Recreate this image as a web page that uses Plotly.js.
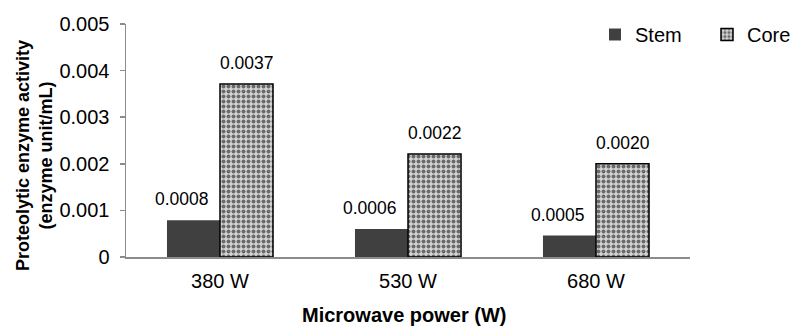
<!DOCTYPE html>
<html>
<head>
<meta charset="utf-8">
<script src="https://cdn.plot.ly/plotly-3.0.1.min.js"></script>
<style>html,body{margin:0;padding:0;background:#fff;}#chart{width:792px;height:326px;}</style>
</head>
<body>
<div id="chart"></div>
<script>
const categories = ["380 W", "530 W", "680 W"];
const stemValues = [0.00079, 0.0006, 0.00046];
const coreValues = [0.00371, 0.00221, 0.002];
const yTickVals = [0, 0.001, 0.002, 0.003, 0.004, 0.005];
const yTickText = ["0", "0.001", "0.002", "0.003", "0.004", "0.005"];

const FONT = "Arial, Liberation Sans, sans-serif";
const barW = 0.282;
const traces = [
  {
    type: "bar", name: "Stem", x: [0, 1, 2], y: stemValues,
    width: barW, offset: -barW,
    marker: {color: "#404040", line: {width: 0}},
    hoverinfo: "skip"
  },
  {
    type: "bar", name: "Core", x: [0, 1, 2], y: coreValues,
    width: barW, offset: 0,
    marker: {color: "#bdbdbd", line: {color: "#000000", width: 1.5},
      pattern: {shape: ".", bgcolor: "#d4d4d4", fgcolor: "#6a6a6a", size: 5, solidity: 0.5}},
    hoverinfo: "skip"
  }
];

const annotations = [];
stemValues.forEach((v, i) => annotations.push({
  x: i - barW / 2, y: v, xref: "x", yref: "y", text: v.toFixed(4),
  showarrow: false, yanchor: "bottom", yshift: 9, xshift: -11,
  font: {family: FONT, size: 17.5, color: "#000"}
}));
coreValues.forEach((v, i) => annotations.push({
  x: i + barW / 2, y: v, xref: "x", yref: "y", text: v.toFixed(4),
  showarrow: false, yanchor: "bottom", yshift: 9,
  font: {family: FONT, size: 17.5, color: "#000"}
}));
// x-axis title
annotations.push({
  x: (404 - 126) / 564, xref: "paper", y: -(315 - 257) / 233, yref: "paper",
  text: "<b>Microwave power (W)</b>", showarrow: false,
  xanchor: "center", yanchor: "middle", font: {family: FONT, size: 20, color: "#000"}
});
// y-axis title
annotations.push({
  x: (34 - 126) / 564, xref: "paper", y: (257 - 155) / 233, yref: "paper",
  text: "<b>Proteolytic enzyme activity<br>(enzyme unit/mL)</b>", showarrow: false,
  textangle: -90, xanchor: "center", yanchor: "middle",
  font: {family: FONT, size: 18, color: "#000"}
});

const layout = {
  width: 792, height: 326,
  margin: {l: 126, r: 102, t: 24, b: 69, autoexpand: false},
  paper_bgcolor: "#fff", plot_bgcolor: "#fff",
  font: {family: FONT, size: 20, color: "#000"},
  showlegend: true,
  legend: {orientation: "h", x: (595 - 126) / 564, y: (257 - 34.5) / 233,
    xanchor: "left", yanchor: "middle",
    font: {family: FONT, size: 20, color: "#000"}, entrywidth: 67, entrywidthmode: "pixels",
    traceorder: "normal", bgcolor: "rgba(0,0,0,0)"},
  xaxis: {
    range: [-0.5, 2.5], tickvals: [0, 1, 2], ticktext: categories,
    showline: true, linecolor: "#8c8c8c", linewidth: 1.5, ticks: "",
    showgrid: false, zeroline: false, tickfont: {size: 20}, fixedrange: true,
    ticklabelstandoff: 5
  },
  yaxis: {
    range: [0, 0.005], tickvals: yTickVals, ticktext: yTickText,
    showline: true, linecolor: "#8c8c8c", linewidth: 1.5,
    ticks: "outside", ticklen: 5, tickcolor: "#8c8c8c", tickwidth: 1.5,
    showgrid: false, zeroline: false, tickfont: {size: 20},
    ticklabelstandoff: 6
  },
  annotations: annotations
};

Plotly.newPlot("chart", traces, layout, {staticPlot: true, displayModeBar: false});
</script>
</body>
</html>
